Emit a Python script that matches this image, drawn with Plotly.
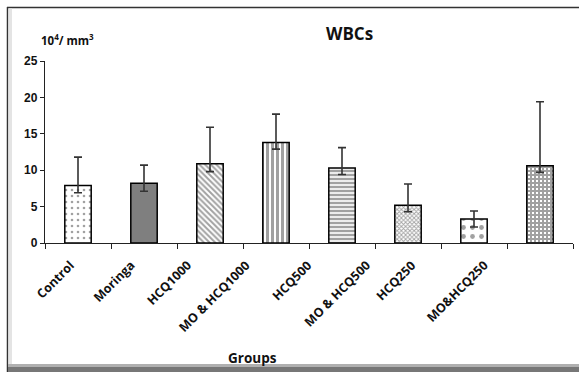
import plotly.graph_objects as go

groups = ["Control", "Moringa", "HCQ1000", "MO & HCQ1000", "HCQ500",
          "MO & HCQ500", "HCQ250", "MO&HCQ250"]
means = [7.9, 8.2, 10.9, 13.8, 10.3, 5.2, 3.3, 10.6]
err_plus = [3.9, 2.5, 5.0, 3.9, 2.8, 2.9, 1.1, 8.8]
err_minus = [1.0, 1.1, 1.1, 0.9, 0.9, 0.9, 1.1, 0.9]
y_ticks = [0, 5, 10, 15, 20, 25]

# pixel x of the upper-right end of each slanted group label (layout)
label_end_px = [81, 141, 198, 256, 318, 377, 422, 494]

shapes_ = [".", "", "\\", "|", "-", "x", ".", "+"]
sizes = [6, 8, 4, 5, 4, 3, 9, 4]
solid = [0.15, 0.35, 0.5, 0.6, 0.6, 0.5, 0.22, 0.75]
fgs = ["#111111", "#333333", "#333333", "#333333", "#333333", "#333333", "#111111", "#333333"]
bgs = ["white", "#7f7f7f", "white", "white", "white", "white", "white", "white"]

W, H = 579, 372
L, R, T, B = 45, 6, 61, 129
pw, ph = W - L - R, H - T - B

def px(x):
    return (x - L) / pw

def py(y):
    return (H - B - y) / ph

fig = go.Figure()
fig.add_trace(go.Bar(
    x=groups, y=means, width=0.4,
    marker=dict(
        color=bgs,
        line=dict(color="black", width=1.5),
        pattern=dict(shape=shapes_, size=sizes, solidity=solid,
                     fgcolor=fgs, bgcolor=bgs, fillmode="overlay"),
    ),
    error_y=dict(type="data", symmetric=False, array=err_plus,
                 arrayminus=err_minus, color="#333333", thickness=1.6, width=4),
))

annotations = [
    dict(text="<b>WBCs</b>", x=px(349), y=py(33), xref="paper", yref="paper",
         xanchor="center", yanchor="middle",
         showarrow=False, font=dict(family="Open Sans", size=17, color="#111111")),
    dict(text="<b>10<sup>4</sup>/ mm<sup>3</sup></b>", x=px(67), y=py(39),
         xref="paper", yref="paper", xanchor="center", yanchor="middle",
         showarrow=False, font=dict(family="Open Sans", size=11.5, color="#111111")),
    dict(text="<b>Groups</b>", x=px(252), y=py(358), xref="paper", yref="paper",
         xanchor="center", yanchor="middle",
         showarrow=False, font=dict(family="Open Sans", size=13.5, color="#111111")),
]
for g, xe in zip(groups, label_end_px):
    annotations.append(dict(
        text="<b>%s</b>" % g, x=px(xe), y=py(254), xref="paper", yref="paper",
        xanchor="right", yanchor="top", textangle=-45, showarrow=False,
        font=dict(family="Open Sans", size=12.5, color="#111111")))

fig.update_layout(
    width=W, height=H,
    margin=dict(l=L, r=R, t=T, b=B, autoexpand=False),
    paper_bgcolor="white", plot_bgcolor="white",
    showlegend=False,
    bargap=0.6,
    font=dict(family="Open Sans", color="#222222"),
    xaxis=dict(
        automargin=False, showticklabels=False,
        showline=True, linecolor="#222222", linewidth=1.3,
        ticks="outside", ticklen=5, tickcolor="#222222", tickwidth=1.3,
        tickson="boundaries",
        showgrid=False,
    ),
    yaxis=dict(
        automargin=False,
        range=[0, 25], tickvals=y_ticks,
        showline=True, linecolor="#222222", linewidth=1.3,
        ticks="outside", ticklen=4, tickcolor="#222222",
        tickfont=dict(family="Liberation Sans", size=12, color="#111111", weight="bold"),
        showgrid=False, zeroline=False,
    ),
    annotations=annotations,
    shapes=[
        dict(type="line", xref="paper", yref="paper", x0=px(7), x1=px(585),
             y0=py(7.5), y1=py(7.5), line=dict(color="#333333", width=1.5)),
        dict(type="line", xref="paper", yref="paper", x0=px(7.5), x1=px(7.5),
             y0=py(7), y1=py(372), line=dict(color="#333333", width=1.5)),
        dict(type="rect", xref="paper", yref="paper", x0=px(8.5), x1=px(12),
             y0=py(8.5), y1=py(364), line=dict(width=0), fillcolor="#e4e4e4"),
        dict(type="rect", xref="paper", yref="paper", x0=px(8), x1=px(585),
             y0=py(364), y1=py(367), line=dict(width=0), fillcolor="#b0b0b0"),
        dict(type="rect", xref="paper", yref="paper", x0=px(8), x1=px(585),
             y0=py(367), y1=py(372), line=dict(width=0), fillcolor="#777777"),
    ],
)

fig.write_html("out.html", config={"displayModeBar": False},
               post_script="document.body.style.margin='0';")
